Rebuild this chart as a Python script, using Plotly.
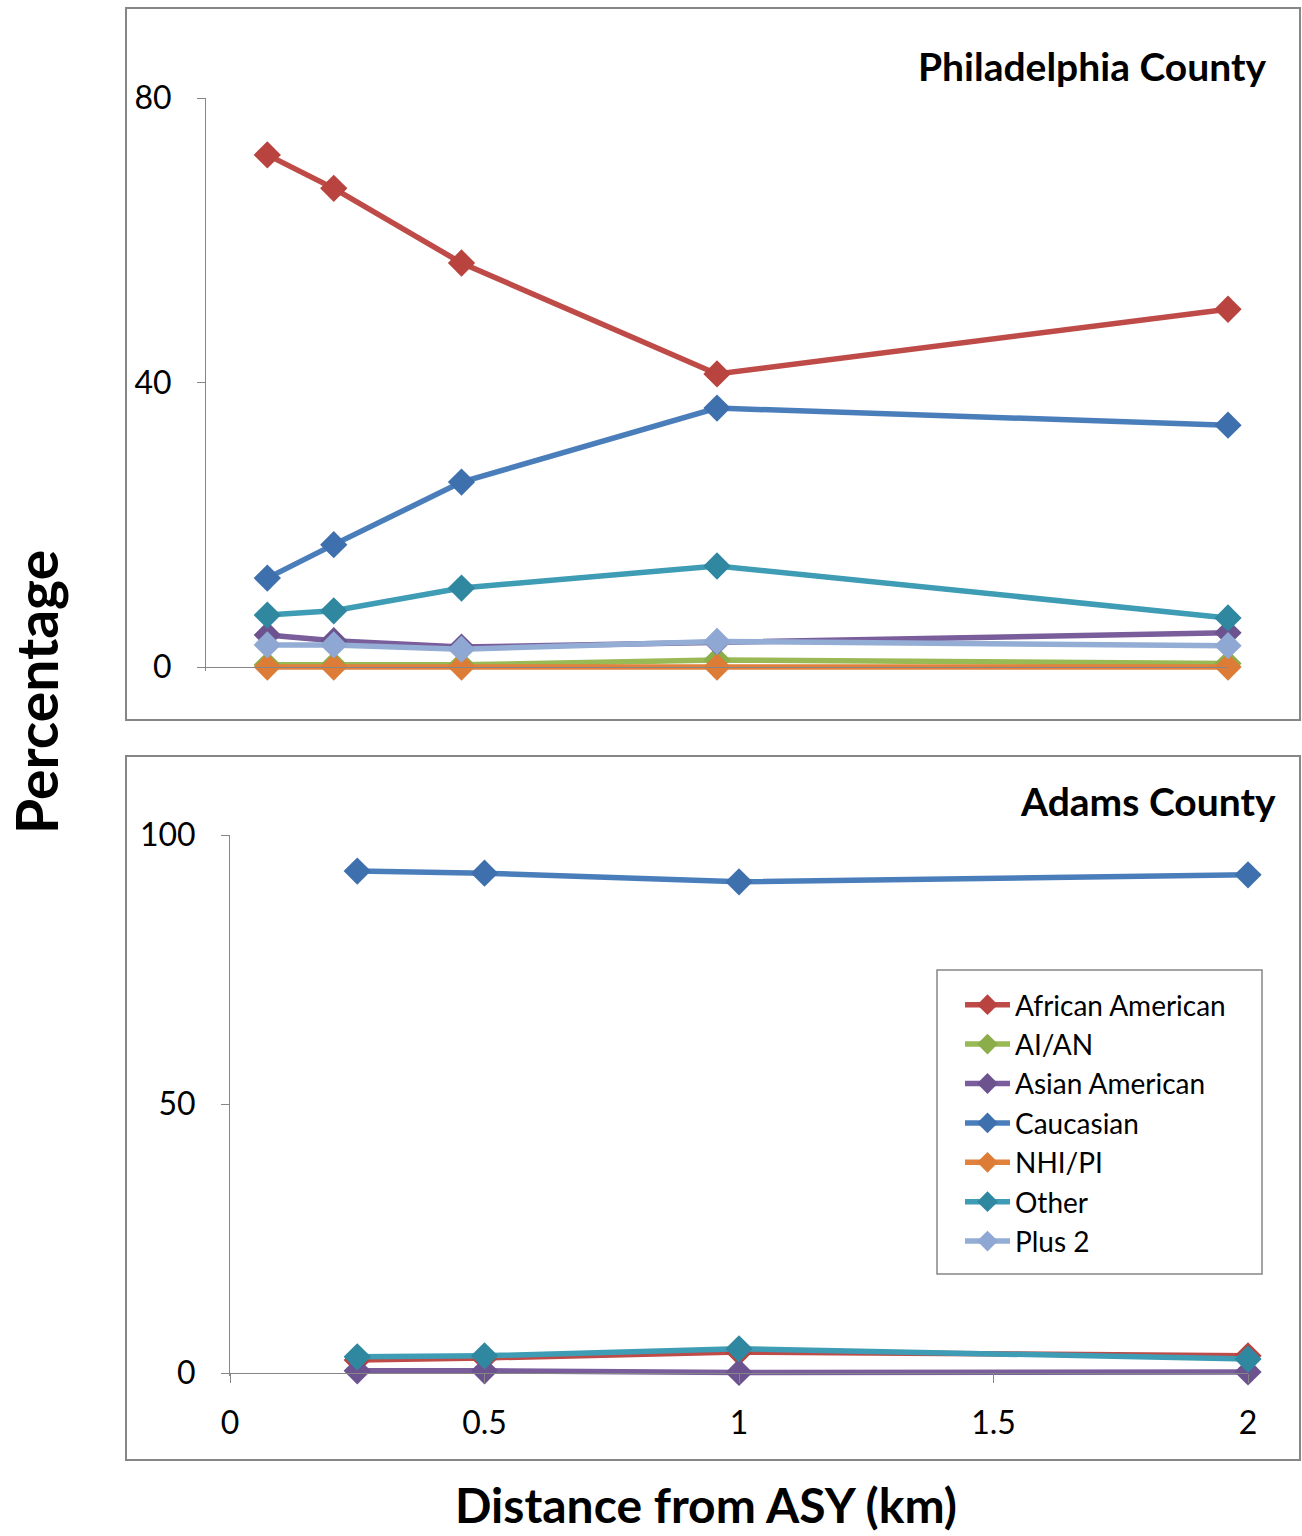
import plotly.graph_objects as go

# Philadelphia County: distance bands (km) and percentage by group
phila_dist = [0.12, 0.25, 0.5, 1, 2]
phila = {
    "African American": [72.0, 67.3, 56.8, 41.2, 50.3],
    "AI/AN": [0.3, 0.3, 0.3, 1.0, 0.5],
    "Asian American": [4.5, 3.7, 2.8, 3.5, 4.8],
    "Caucasian": [12.5, 17.2, 26.0, 36.4, 34.0],
    "NHI/PI": [0.0, 0.0, 0.0, 0.0, 0.0],
    "Other": [7.3, 7.9, 11.1, 14.2, 6.9],
    "Plus 2": [3.1, 3.1, 2.5, 3.6, 3.0],
}

# Adams County: distance bands (km) and percentage by group
adams_dist = [0.25, 0.5, 1, 2]
adams = {
    "African American": [2.4, 2.8, 3.9, 3.2],
    "Asian American": [0.4, 0.4, 0.1, 0.2],
    "Caucasian": [93.3, 92.9, 91.3, 92.6],
    "Other": [3.0, 3.2, 4.5, 2.6],
}

y_ticks_top = [0, 40, 80]
y_ticks_bottom = [0, 50, 100]
x_ticks = [0, 0.5, 1, 1.5, 2]

line_colors = {
    "African American": "#BE4B48",
    "AI/AN": "#98B954",
    "Asian American": "#7A5E9C",
    "Caucasian": "#4A7EBB",
    "NHI/PI": "#E0823D",
    "Other": "#3E9CB4",
    "Plus 2": "#93ADD5",
}
marker_colors = {
    "African American": "#B8433F",
    "AI/AN": "#8BAE4A",
    "Asian American": "#6C5390",
    "Caucasian": "#3F70AE",
    "NHI/PI": "#DD7C36",
    "Other": "#2F88A0",
    "Plus 2": "#8EA8D3",
}

FIG_W, FIG_H = 1302, 1536
FONT = "Lato, 'Open Sans', sans-serif"
AXIS_GRAY = "#868686"
LINE_W = 5.5
MARKER_SIZE = 21


def fx(p):
    """pixel x -> paper fraction"""
    return p / FIG_W


def fy(p):
    """pixel y (from top) -> paper fraction"""
    return 1 - p / FIG_H


fig = go.Figure()

for name, vals in phila.items():
    fig.add_trace(go.Scatter(
        x=phila_dist, y=vals, name=name, mode="lines+markers",
        xaxis="x", yaxis="y", showlegend=True, cliponaxis=False,
        line=dict(color=line_colors[name], width=LINE_W),
        marker=dict(symbol="diamond", size=MARKER_SIZE, color=marker_colors[name],
                    line=dict(width=0)),
    ))

for name, vals in adams.items():
    fig.add_trace(go.Scatter(
        x=adams_dist, y=vals, name=name, mode="lines+markers",
        xaxis="x2", yaxis="y2", showlegend=False, cliponaxis=False,
        line=dict(color=line_colors[name], width=LINE_W),
        marker=dict(symbol="diamond", size=MARKER_SIZE, color=marker_colors[name],
                    line=dict(width=0)),
    ))

# pixel frame used for boxes and free text
fig.add_trace(go.Scatter(x=[], y=[], xaxis="x3", yaxis="y3",
                         showlegend=False, hoverinfo="skip"))

tick_font = dict(family=FONT, size=32, color="#000000")

# small negative floor so thick lines at 0 are not cut by the plot clip
TOP_FLOOR, BOT_FLOOR = -0.5, -0.6
top_scale = (667 - 98) / 80.0
bot_scale = (1373 - 835) / 100.0

common_axis = dict(automargin=False, showgrid=False, zeroline=False,
                   linecolor=AXIS_GRAY, linewidth=1, tickcolor=AXIS_GRAY)

fig.update_layout(
    width=FIG_W, height=FIG_H, autosize=False,
    margin=dict(l=0, r=0, t=0, b=0, pad=0),
    paper_bgcolor="white", plot_bgcolor="rgba(0,0,0,0)",
    font=dict(family=FONT, color="#000000"),
    xaxis=dict(
        common_axis,
        domain=[fx(206), fx(1228)], range=[0, 2],
        anchor="free", position=fy(667),
        showline=True, showticklabels=False, ticks="",
    ),
    yaxis=dict(
        common_axis,
        domain=[fy(667 - TOP_FLOOR * top_scale), fy(98)], range=[TOP_FLOOR, 80],
        anchor="x",
        tickvals=y_ticks_top, ticks="outside", ticklen=8,
        showline=True, tickfont=tick_font, ticklabelstandoff=19,
    ),
    xaxis2=dict(
        common_axis,
        domain=[fx(230), fx(1248)], range=[0, 2],
        anchor="free", position=fy(1373),
        tickvals=x_ticks, ticktext=[f"{v:g}" for v in x_ticks],
        ticks="outside", ticklen=9,
        showline=True, tickfont=tick_font, ticklabelstandoff=13,
    ),
    yaxis2=dict(
        common_axis,
        domain=[fy(1373 - BOT_FLOOR * bot_scale), fy(835)], range=[BOT_FLOOR, 100],
        anchor="x2",
        tickvals=y_ticks_bottom, ticks="outside", ticklen=8,
        showline=True, tickfont=tick_font, ticklabelstandoff=19,
    ),
    xaxis3=dict(domain=[0, 1], range=[0, FIG_W], anchor="y3",
                visible=False, fixedrange=True, automargin=False),
    yaxis3=dict(domain=[0, 1], range=[FIG_H, 0], anchor="x3",
                visible=False, fixedrange=True, automargin=False),
    legend=dict(
        x=fx(960), y=fy(980), xanchor="left", yanchor="top",
        borderwidth=0, bgcolor="rgba(0,0,0,0)",
        font=dict(family=FONT, size=28, color="#000000"),
        itemwidth=45,
    ),
    shapes=[
        dict(type="rect", xref="x3", yref="y3", x0=126, x1=1300, y0=8, y1=720,
             line=dict(color=AXIS_GRAY, width=2), layer="below"),
        dict(type="rect", xref="x3", yref="y3", x0=126, x1=1300, y0=756, y1=1460,
             line=dict(color=AXIS_GRAY, width=2), layer="below"),
        dict(type="rect", xref="x3", yref="y3", x0=937, x1=1262, y0=970, y1=1274,
             line=dict(color=AXIS_GRAY, width=1.5), fillcolor="white", layer="below"),
    ],
    annotations=[
        dict(text="<b>Philadelphia County</b>", xref="x3", yref="y3",
             x=1268, y=66, xanchor="right", yanchor="middle",
             showarrow=False, font=dict(family=FONT, size=39)),
        dict(text="<b>Adams County</b>", xref="x3", yref="y3",
             x=1278, y=801, xanchor="right", yanchor="middle",
             showarrow=False, font=dict(family=FONT, size=39)),
        dict(text="<b>Percentage</b>", xref="x3", yref="y3",
             x=36, y=692, xanchor="center", yanchor="middle",
             textangle=-90, showarrow=False, font=dict(family=FONT, size=57)),
        dict(text="<b>Distance from ASY (km)</b>", xref="x3", yref="y3",
             x=706, y=1504, xanchor="center", yanchor="middle",
             showarrow=False, font=dict(family=FONT, size=48)),
    ],
)

fig.write_html("out.html")
